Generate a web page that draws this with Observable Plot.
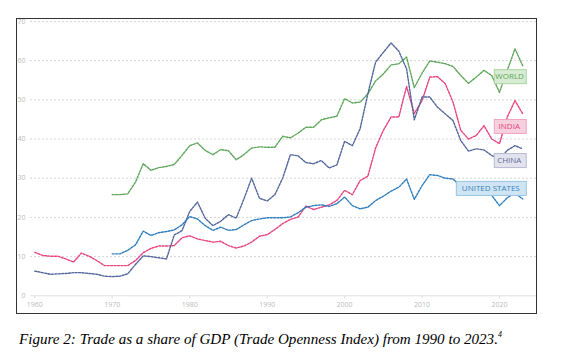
<!DOCTYPE html>
<html><head><meta charset="utf-8">
<script src="https://cdn.jsdelivr.net/npm/d3@7"></script>
<script src="https://cdn.jsdelivr.net/npm/@observablehq/plot@0.6"></script>
<style>
html,body{margin:0;padding:0;background:#fff;width:561px;height:362px;overflow:hidden;}
#frame{position:absolute;left:16px;top:18px;width:521px;height:296px;border:1.5px solid #333;box-sizing:border-box;}
#chart{position:absolute;left:0;top:0;}
#caption{position:absolute;left:19px;top:331px;font-family:"Liberation Serif","Times New Roman",serif;font-style:italic;font-size:15.1px;color:#000;white-space:nowrap;}
#caption sup{font-size:8px;vertical-align:7px;line-height:0;}
</style></head>
<body>
<div id="frame"></div>
<div id="chart"></div>
<div id="caption">Figure 2: Trade as a share of GDP (Trade Openness Index) from 1990 to 2023.<sup>4</sup></div>
<script>
// ---- data (trade, % of GDP) ----
const xTicks = [1960, 1970, 1980, 1990, 2000, 2010, 2020];
const yTicks = [0, 10, 20, 30, 40, 50, 60, 70];

const chinaStart = 1960;
const china = [6.3, 5.9, 5.5, 5.6, 5.7, 5.9, 5.9, 5.7, 5.5, 5.0,
  4.9, 5.0, 5.6, 8.0, 10.2, 10.0, 9.7, 9.4, 15.5, 16.6,
  21.5, 23.9, 19.8, 17.9, 19.0, 20.7, 19.8, 24.7, 30.0, 24.9,
  24.2, 25.8, 30.0, 36.0, 35.7, 34.0, 33.7, 34.5, 32.6, 33.4,
  39.4, 38.3, 42.6, 51.5, 59.6, 62.1, 64.5, 62.4, 57.9, 44.9,
  50.7, 50.7, 48.1, 46.4, 44.7, 39.6, 36.9, 37.5, 37.2, 35.8,
  34.9, 37.1, 38.3, 37.5];

const indiaStart = 1960;
const india = [11.1, 10.3, 10.1, 10.1, 9.4, 8.6, 10.9, 10.1, 9.0, 7.7,
  7.7, 7.7, 7.7, 9.0, 11.0, 12.1, 12.7, 12.7, 12.8, 14.8,
  15.3, 14.5, 14.1, 13.7, 13.9, 12.8, 12.2, 12.7, 13.7, 15.2,
  15.6, 16.9, 18.4, 19.5, 20.1, 22.9, 22.0, 22.6, 23.2, 24.3,
  26.9, 25.8, 29.4, 30.5, 37.7, 42.2, 45.6, 45.6, 53.4, 46.5,
  49.8, 55.8, 55.9, 54.1, 49.4, 42.2, 40.0, 40.9, 43.4, 40.0,
  38.8, 45.6, 49.8, 46.4];

const worldStart = 1970;
const world = [25.8, 25.8, 26.0, 29.0, 33.7, 32.0, 32.7, 33.0, 33.5, 35.8,
  38.3, 39.0, 37.1, 36.0, 37.3, 37.0, 34.7, 36.0, 37.7, 38.0,
  37.9, 37.9, 40.7, 40.3, 41.5, 43.0, 43.0, 44.9, 45.4, 45.8,
  50.3, 49.2, 49.4, 51.5, 54.8, 56.6, 58.9, 59.2, 60.9, 53.1,
  56.8, 59.9, 59.6, 59.2, 58.5, 56.2, 54.2, 55.8, 57.5, 56.2,
  51.9, 57.5, 63.0, 58.7];

const usStart = 1970;
const us = [10.7, 10.7, 11.6, 13.0, 16.5, 15.4, 16.1, 16.4, 16.8, 18.1,
  20.2, 19.6, 17.9, 16.7, 17.5, 16.7, 16.9, 18.1, 19.2, 19.6,
  19.9, 19.9, 19.9, 20.1, 21.2, 22.6, 23.0, 23.2, 22.8, 23.5,
  25.2, 23.0, 22.2, 22.6, 24.3, 25.4, 26.7, 27.7, 29.8, 24.6,
  28.1, 30.9, 30.7, 30.0, 29.8, 28.0, 26.6, 27.1, 27.4, 25.6,
  23.0, 25.0, 26.2, 24.7];

const seriesKeys = ["World", "India", "China", "United States"];
const labelNames = ["WORLD", "INDIA", "CHINA", "UNITED STATES"];
const labelValues = [55.9, 43.2, 34.5, 27.4];

// ---- styles ----
const lineColor = {"World": "#5ea65a", "India": "#e7427f", "China": "#52669c", "United States": "#2e7dbd"};
const boxFill = {"World": "#d8ecd4", "India": "#f7d0de", "China": "#e3e3ef", "United States": "#cfe5f3"};
const boxStroke = {"World": "#a9d4a1", "India": "#eda5c1", "China": "#b9bbd3", "United States": "#94c4e1"};
const textColor = {"World": "#5ea65a", "India": "#e7427f", "China": "#5f6b98", "United States": "#3b82bd"};

function toRows(key, start, vals) { return vals.map((v, i) => ({key, year: start + i, value: v})); }
const table = {
  "World": toRows("World", worldStart, world),
  "India": toRows("India", indiaStart, india),
  "China": toRows("China", chinaStart, china),
  "United States": toRows("United States", usStart, us)
};
const lastYear = d3.max(table["World"], d => d.year);
const labels = seriesKeys.map((k, i) => ({key: k, name: labelNames[i], value: labelValues[i]}));

const plot = Plot.plot({
  width: 561, height: 320,
  marginLeft: 30, marginRight: 25, marginTop: 20.9, marginBottom: 24.7,
  style: {fontFamily: "'Open Sans', sans-serif", background: "transparent", color: "#bbb", overflow: "visible"},
  x: {domain: [1960, 2020], range: [34.3, 499]},
  y: {domain: [0, 70]},
  marks: [
    Plot.gridY(yTicks.filter(d => d > 0), {stroke: "#d6d6d6", strokeOpacity: 1, strokeDasharray: "2,2"}),
    Plot.ruleY([0], {stroke: "#e2e2e2"}),
    Plot.axisY(yTicks, {tickSize: 0, tickPadding: 5, fontSize: 7, label: null, fill: "#bbb"}),
    Plot.axisX(xTicks, {tickSize: 3, tickPadding: 3, fontSize: 7, label: null, tickFormat: d => String(d), stroke: "#ddd", fill: "#bbb"}),
    ...seriesKeys.map(k => Plot.line(table[k], {x: "year", y: "value", stroke: lineColor[k], strokeWidth: 1.4, strokeDasharray: "2,1.4"})),
    ...labels.map(l => Plot.text([l], {x: () => lastYear, y: "value", text: "name", fill: textColor[l.key], fontSize: 8, textAnchor: "middle"}))
  ]
});
document.getElementById("chart").appendChild(plot);

// boxes behind the series labels, sized from the rendered text
const xs = plot.scale("x"), ys = plot.scale("y");
const svgRect = plot.getBoundingClientRect();
const right = xs.apply(lastYear) + 3.5;
const ns = "http://www.w3.org/2000/svg";
const allTexts = Array.from(plot.querySelectorAll("text"));
labels.forEach(l => {
  const t = allTexts.find(e => e.textContent === l.name);
  if (!t) return;
  const r = t.getBoundingClientRect();
  const w = r.width;
  const W = w < 35 ? 32 : w + 12;
  const cx = right - W / 2;
  const cur = r.left - svgRect.left + w / 2;
  t.setAttribute("transform", ((t.getAttribute("transform") || "") + ` translate(${cx - cur},0)`).trim());
  const cy = ys.apply(l.value);
  const rect = document.createElementNS(ns, "rect");
  rect.setAttribute("x", cx - W / 2);
  rect.setAttribute("y", cy - 7);
  rect.setAttribute("width", W);
  rect.setAttribute("height", 14);
  rect.setAttribute("fill", boxFill[l.key]);
  rect.setAttribute("stroke", boxStroke[l.key]);
  rect.setAttribute("stroke-width", 1);
  t.parentNode.insertBefore(rect, t);
});
</script>
</body></html>
